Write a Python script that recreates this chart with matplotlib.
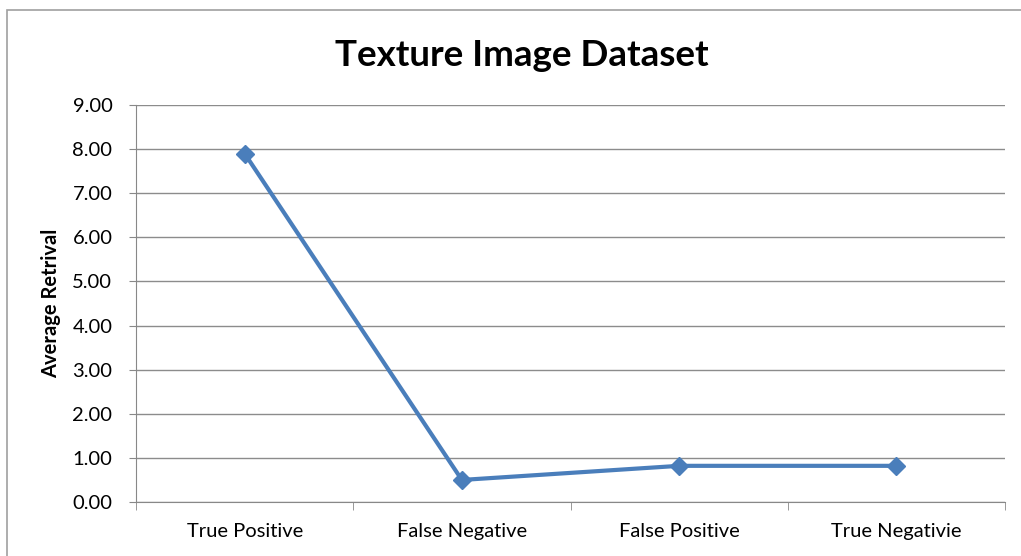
import matplotlib
matplotlib.use("Agg")
import matplotlib.pyplot as plt
from matplotlib.patches import Rectangle
from matplotlib.ticker import FormatStrFormatter, FixedLocator

categories = ["True Positive", "False Negative", "False Positive", "True Negativie"]
values = [7.90, 0.50, 0.82, 0.82]
yticks = [0, 1, 2, 3, 4, 5, 6, 7, 8, 9]

plt.rcParams['font.family'] = ['Lato', 'DejaVu Sans']

fig = plt.figure(figsize=(10.21, 5.56), dpi=100)
fig.patch.set_facecolor('white')

# chart border (Excel style)
fig.patches.append(Rectangle((7/1021, -0.1), 1.2, 1.1 - 10/556, transform=fig.transFigure,
                             fill=False, edgecolor='#a0a0a0', linewidth=1.2))

ax = fig.add_axes([136/1021, 1 - 502/556, (1005 - 136)/1021, (502 - 105)/556])
x = list(range(len(categories)))
ax.plot(x, values, color='#4A7EBB', linewidth=3, marker='D', markersize=9,
        markerfacecolor='#4A7EBB', markeredgecolor='#4A7EBB', zorder=3)

ax.set_xlim(-0.5, len(categories) - 0.5)
ax.set_ylim(0, 9)
ax.set_yticks(yticks)
ax.yaxis.set_major_formatter(FormatStrFormatter('%.2f'))
ax.set_xticks(x)
ax.set_xticklabels(categories, fontsize=14.5)
ax.xaxis.set_minor_locator(FixedLocator([i - 0.5 for i in range(len(categories) + 1)]))
ax.tick_params(axis='x', which='major', length=0, pad=15)
ax.tick_params(axis='x', which='minor', length=6, color='#888888', direction='out')
ax.tick_params(axis='y', length=5, color='#888888', direction='out', labelsize=14.5, pad=12)

ax.grid(axis='y', color='#8c8c8c', linewidth=1)
ax.set_axisbelow(True)
for s in ['top', 'right']:
    ax.spines[s].set_visible(False)
ax.spines['left'].set_color('#888888')
ax.spines['bottom'].set_color('#888888')

ax.set_ylabel('Average Retrival', fontsize=14.5, fontweight='bold', labelpad=8)
fig.text(522/1021, 1 - 56/556, 'Texture Image Dataset', ha='center', va='center',
         fontsize=26.5, fontweight='bold')

fig.savefig('out.png', dpi=100)
